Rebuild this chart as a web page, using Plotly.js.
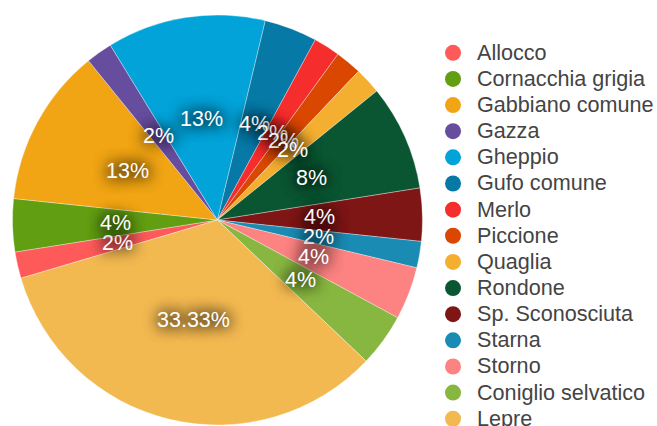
<!DOCTYPE html>
<html><head><meta charset="utf-8">
<script src="https://cdn.plot.ly/plotly-3.0.1.min.js"></script>
<style>html,body{margin:0;padding:0;background:#fff}#chart{width:657px;height:426px}</style>
</head><body><div id="chart"></div>
<script>
const species = ['Allocco','Cornacchia grigia','Gabbiano comune','Gazza','Gheppio','Gufo comune','Merlo','Piccione','Quaglia','Rondone','Sp. Sconosciuta','Starna','Storno','Coniglio selvatico','Lepre'];
const counts = [1,2,6,1,6,2,1,1,1,4,2,1,2,2,16];
const pctLabels = ['2%','4%','13%','2%','13%','4%','2%','2%','2%','8%','4%','2%','4%','4%','33.33%'];
const colors = ['#FF5A5A','#619E12','#F1A514','#674D9E','#01A3D9','#0779A6','#F52D2C','#D94701','#F4AF30','#0B5632','#7E1616','#1A8BB3','#FD8282','#88B741','#F3B951'];

const W = 657, H = 426;
const FONT = '"Liberation Sans", Arial, Helvetica, sans-serif';
const startAngle = 253.5;
const domainX = [0.019, 0.643], domainY = [0.0024, 0.9648];

const pie = {
  type: 'pie', labels: species, values: counts,
  marker: {colors: colors, line: {color: 'rgba(255,255,255,0.55)', width: 0.6}},
  sort: false, direction: 'clockwise', rotation: startAngle,
  textinfo: 'none', hoverinfo: 'label+percent', showlegend: false,
  domain: {x: domainX, y: domainY}
};

const legendTraces = species.map((s, i) => ({
  type: 'scatter', mode: 'markers', x: [null], y: [null],
  name: '<span style="font-size:21.6px">' + s + '</span>',
  marker: {color: colors[i], size: 17, symbol: 'circle'},
  showlegend: true, hoverinfo: 'skip'
}));

const total = counts.reduce((a, b) => a + b, 0);
const pxW = (domainX[1] - domainX[0]) * W, pxH = (domainY[1] - domainY[0]) * H;
const R = Math.min(pxW, pxH) / 2;
const cx = (domainX[0] + domainX[1]) / 2, cy = (domainY[0] + domainY[1]) / 2;
let cum = 0;
const annotations = counts.map((v, i) => {
  const a = (startAngle + (cum + v / 2) / total * 360) * Math.PI / 180;
  cum += v;
  return {
    xref: 'paper', yref: 'paper',
    x: cx + 0.5 * R * Math.sin(a) / W, y: cy + 0.5 * R * Math.cos(a) / H,
    text: pctLabels[i], showarrow: false, xanchor: 'center', yanchor: 'middle',
    font: {family: FONT, size: 21.5, color: '#ffffff',
           shadow: '0px 0px 15px #000000, 0px 0px 15px #000000'}
  };
});

const layout = {
  width: W, height: H,
  margin: {l: 0, r: 0, t: 0, b: 0, autoexpand: false},
  paper_bgcolor: '#ffffff', plot_bgcolor: 'rgba(0,0,0,0)',
  font: {family: FONT, color: '#444'},
  xaxis: {visible: false}, yaxis: {visible: false},
  showlegend: true,
  legend: {x: 0.653, y: 0.9185, xanchor: 'left', yanchor: 'top',
           font: {family: FONT, size: 17.8, color: '#444'},
           itemwidth: 38, bgcolor: 'rgba(0,0,0,0)', borderwidth: 0},
  annotations: annotations
};

Plotly.newPlot('chart', [pie].concat(legendTraces), layout, {staticPlot: true, displayModeBar: false});
</script>
</body></html>
